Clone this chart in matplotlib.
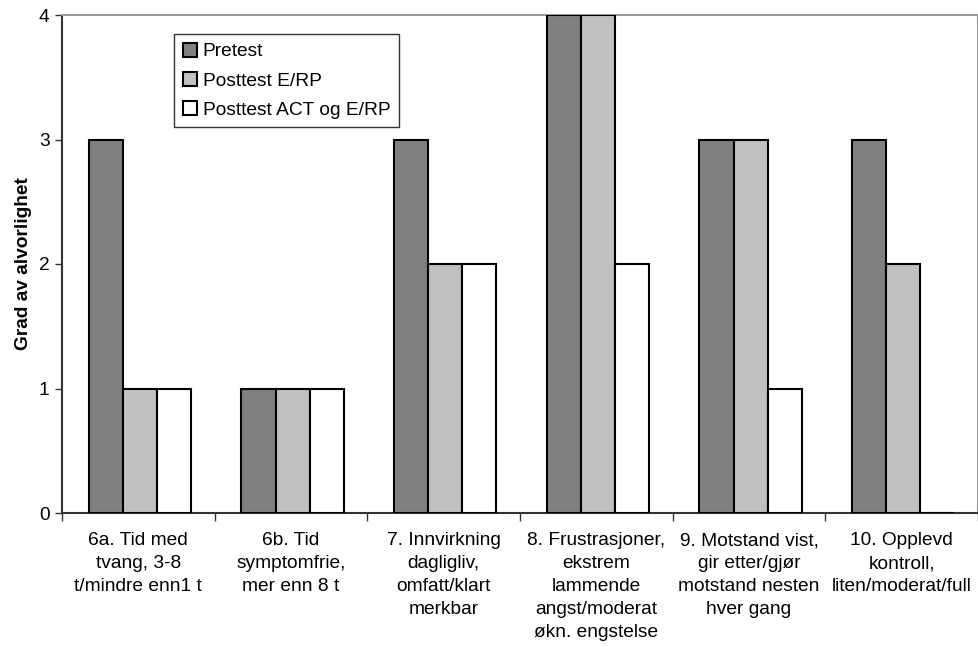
import matplotlib
matplotlib.use("Agg")
import matplotlib.pyplot as plt
import numpy as np

plt.rcParams['font.family'] = ['Liberation Sans', 'DejaVu Sans']

categories = [
    "6a. Tid med\ntvang, 3-8\nt/mindre enn1 t",
    "6b. Tid\nsymptomfrie,\nmer enn 8 t",
    "7. Innvirkning\ndagligliv,\nomfatt/klart\nmerkbar",
    "8. Frustrasjoner,\nekstrem\nlammende\nangst/moderat\nøkn. engstelse",
    "9. Motstand vist,\ngir etter/gjør\nmotstand nesten\nhver gang",
    "10. Opplevd\nkontroll,\nliten/moderat/full",
]
series_names = ["Pretest", "Posttest E/RP", "Posttest ACT og E/RP"]
pretest = [3, 1, 3, 4, 3, 3]
posttest_erp = [1, 1, 2, 4, 3, 2]
posttest_act = [1, 1, 2, 2, 1, 0]
y_ticks = [0, 1, 2, 3, 4]

colors = ["#808080", "#C0C0C0", "#FFFFFF"]
fs = 13.8

fig = plt.figure(figsize=(9.79, 6.47), dpi=100)
ax = fig.add_axes([62 / 979, 1 - 513 / 647, (978 - 62) / 979, (513 - 15) / 647])

x = np.arange(len(categories))
w = 0.223
for i, (vals, c, name) in enumerate(zip([pretest, posttest_erp, posttest_act], colors, series_names)):
    ax.bar(x + (i - 1) * w + 0.01, vals, width=w, color=c, edgecolor="black",
           linewidth=1.5, label=name, zorder=3)

ax.set_xlim(-0.5, len(categories) - 0.5)
ax.set_ylim(0, 4)
ax.set_yticks(y_ticks)
ax.set_yticklabels([str(t) for t in y_ticks], fontsize=fs)
ax.set_xticks(np.arange(len(categories) + 1) - 0.5)
ax.set_xticklabels([])
ax.set_xticks(x, minor=True)
ax.set_xticklabels(categories, minor=True, fontsize=fs, linespacing=1.46)
ax.tick_params(axis="x", which="minor", length=0, pad=14)
ax.tick_params(axis="x", which="major", length=6, direction="out", width=1, color="#333333")
ax.tick_params(axis="y", length=5, direction="out", width=1, color="#333333", pad=4)

for s in ["left", "bottom"]:
    ax.spines[s].set_color("#333333")
    ax.spines[s].set_linewidth(1.5)
for s in ["top", "right"]:
    ax.spines[s].set_color("#999999")
    ax.spines[s].set_linewidth(1.5)

ax.set_ylabel("Grad av alvorlighet", fontsize=fs, fontweight="bold", labelpad=5)

leg = ax.legend(loc="upper left", bbox_to_anchor=((174 - 62) / 916, (513 - 34) / 498),
                fontsize=fs, frameon=True, fancybox=False, edgecolor="black",
                handlelength=0.75, handleheight=0.75, handletextpad=0.3,
                borderpad=0.45, labelspacing=0.6, borderaxespad=0)
leg.get_frame().set_linewidth(1.0)

fig.savefig("out.png", dpi=100)
